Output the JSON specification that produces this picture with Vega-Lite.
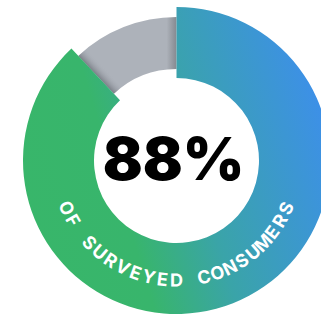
{
  "$schema": "https://vega.github.io/schema/vega-lite/v6.json",
  "width": 307,
  "height": 307,
  "autosize": "none",
  "padding": {"left": 23, "top": 7, "right": 0, "bottom": 0},
  "background": "white",
  "view": {"stroke": null},
  "datasets": {
    "share": [
      {"cat": "surveyed consumers", "value": 88, "idx": 0},
      {"cat": "others", "value": 12, "idx": 1}
    ],
    "caption": [
      {"ch": "O", "i": 0}, {"ch": "F", "i": 1}, {"ch": " ", "i": 2},
      {"ch": "S", "i": 3}, {"ch": "U", "i": 4}, {"ch": "R", "i": 5},
      {"ch": "V", "i": 6}, {"ch": "E", "i": 7}, {"ch": "Y", "i": 8},
      {"ch": "E", "i": 9}, {"ch": "D", "i": 10}, {"ch": " ", "i": 11},
      {"ch": "C", "i": 12}, {"ch": "O", "i": 13}, {"ch": "N", "i": 14},
      {"ch": "S", "i": 15}, {"ch": "U", "i": 16}, {"ch": "M", "i": 17},
      {"ch": "E", "i": 18}, {"ch": "R", "i": 19}, {"ch": "S", "i": 20}
    ],
    "big": [{"label": "88%"}]
  },
  "layer": [
    {
      "data": {"name": "share"},
      "transform": [
        {"stack": "value", "groupby": [], "sort": [{"field": "idx"}], "as": ["s0", "s1"]},
        {"filter": "datum.idx == 1"}
      ],
      "mark": {
        "type": "arc", "innerRadius": 91.5, "outerRadius": 143.5,
        "fill": {
          "gradient": "linear", "x1": 0, "y1": 0, "x2": 1, "y2": 0,
          "stops": [
            {"offset": 0, "color": "#adb2ba"},
            {"offset": 0.9, "color": "#adb2ba"},
            {"offset": 1, "color": "#858990"}
          ]
        }
      },
      "encoding": {
        "theta": {"field": "s0", "type": "quantitative", "scale": {"domain": [0, 100]}},
        "theta2": {"field": "s1"}
      }
    },
    {
      "data": {"name": "share"},
      "transform": [
        {"stack": "value", "groupby": [], "sort": [{"field": "idx"}], "as": ["s0", "s1"]},
        {"filter": "datum.idx == 1"}
      ],
      "mark": {
        "type": "arc", "innerRadius": 91.5, "outerRadius": 143.5,
        "fill": {
          "gradient": "linear", "x1": 0.18, "y1": 0.75, "x2": 0.28, "y2": 0.676,
          "stops": [
            {"offset": 0, "color": "rgba(90,94,102,0.6)"},
            {"offset": 1, "color": "rgba(173,178,186,0)"}
          ]
        }
      },
      "encoding": {
        "theta": {"field": "s0", "type": "quantitative", "scale": {"domain": [0, 100]}},
        "theta2": {"field": "s1"}
      }
    },
    {
      "data": {"name": "share"},
      "transform": [
        {"stack": "value", "groupby": [], "sort": [{"field": "idx"}], "as": ["s0", "s1"]},
        {"filter": "datum.idx == 0"}
      ],
      "mark": {
        "type": "arc",
        "innerRadius": 82.5,
        "outerRadius": 153.5,
        "fill": {
          "gradient": "linear",
          "x1": 0, "y1": 0.65, "x2": 1, "y2": 0.35,
          "stops": [
            {"offset": 0, "color": "#38b66a"},
            {"offset": 0.3, "color": "#38b56c"},
            {"offset": 0.55, "color": "#3aa4a8"},
            {"offset": 1, "color": "#3d8fea"}
          ]
        }
      },
      "encoding": {
        "theta": {"field": "s0", "type": "quantitative", "scale": {"domain": [0, 100]}},
        "theta2": {"field": "s1"}
      }
    },
    {
      "data": {"name": "caption"},
      "mark": {"type": "text", "radius": 121, "font": "Inter", "fontWeight": 700, "fontSize": 18, "color": "white", "align": "center", "baseline": "middle"},
      "encoding": {
        "theta": {"field": "i", "type": "quantitative", "scale": {"domain": [0, 20], "range": [4.304, 1.981]}},
        "angle": {"field": "i", "type": "quantitative", "scale": {"domain": [0, 20], "range": [66.6, -66.5]}, "legend": null},
        "text": {"field": "ch"}
      }
    },
    {
      "data": {"name": "big"},
      "mark": {"type": "text", "font": "Inter", "fontWeight": 900, "fontSize": 59, "color": "black", "align": "center", "baseline": "middle", "dx": -3, "dy": 1},
      "encoding": {"text": {"field": "label"}}
    }
  ],
  "resolve": {"scale": {"theta": "independent"}}
}
